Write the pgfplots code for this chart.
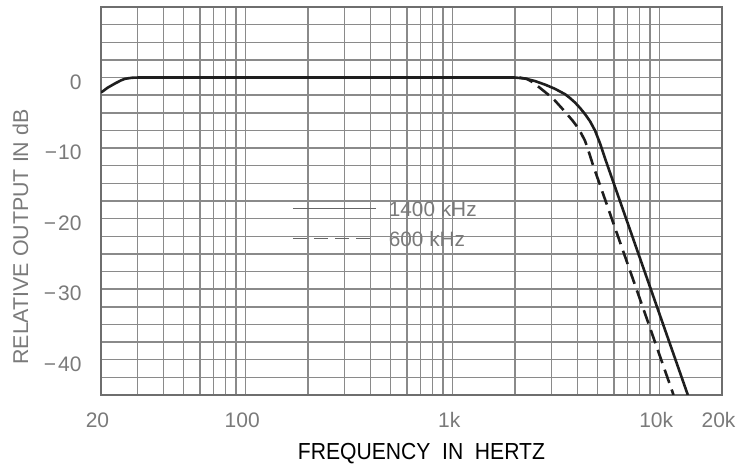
\documentclass[border=0pt]{standalone}
\usepackage{fontspec}
\setmainfont{Liberation Sans}
\usepackage{graphicx}
\usepackage{pgfplots}
\pgfplotsset{compat=1.18}
\definecolor{gridc}{HTML}{8A8A8A}
\definecolor{framec}{HTML}{6E6E6E}
\definecolor{labc}{HTML}{7A7A7A}
\definecolor{curvec}{HTML}{1E1E1E}
\begin{document}
\begin{tikzpicture}
\begin{axis}[
  scale only axis, width=310.5pt, height=194pt,
  xmode=log, xmin=20, xmax=20000, ymin=-45, ymax=10,
  xtick={20,100,1000,10000,20000}, xticklabels={20,100,1k,10k,20k},
  minor xtick={30,40,50,60,70,80,90,200,300,400,500,600,700,800,900,2000,3000,4000,5000,6000,7000,8000,9000},
  ytick={-40,-30,-20,-10,0},
  yticklabels={−\kern1pt40,−\kern1pt30,−\kern1pt20,−\kern0.5pt10,0},
  minor ytick={-45,-42.5,-37.5,-35,-32.5,-27.5,-25,-22.5,-17.5,-15,-12.5,-7.5,-5,-2.5,2.5,5,7.5,10},
  grid=both,
  major grid style={draw=gridc, line width=0.75pt},
  minor grid style={draw=gridc, line width=0.75pt},
  major tick length=0pt, minor tick length=0pt,
  axis line style={draw=framec, line width=1.1pt},
  /pgf/number format/assume math mode=true,
  ticklabel style={font=\fontsize{10.5}{12}\selectfont, text=labc, inner sep=0pt},
  xticklabel style={anchor=base, yshift=-16.5pt, xshift=-1.75pt},
  yticklabel style={anchor=east, xshift=-9.5pt, yshift=-2.25pt},
  xlabel={\scalebox{0.91}[1]{\fontsize{11.6}{14}\selectfont FREQUENCY\ \ IN\ \ HERTZ}},
  xlabel style={at={(axis description cs:0.516,-0.1675)}, anchor=base, inner sep=0pt, text=black},
  ylabel={\fontsize{10.7}{13}\selectfont RELATIVE OUTPUT IN dB},
  ylabel style={at={(axis description cs:-0.1296,0.407)}, anchor=center, inner sep=0pt, text=labc},
  legend style={draw=none, fill=none, at={(axis description cs:0.3076,0.442)}, anchor=west,
    inner sep=0pt, outer sep=0pt, row sep=7.5pt, column sep=6pt,
    font=\fontsize{10.4}{12}\selectfont, text=labc,
    nodes={inner sep=0pt, text height=7.5pt, text depth=0pt}, cells={anchor=west}},
  legend image code/.code={\draw[#1] (0pt,0pt) -- (41.5pt,0pt);},
  legend image post style={line width=0.9pt, draw=black!60},
]
\addplot[curvec, line width=1.3pt] coordinates {
  (20,-2.1) (20.4,-1.95) (21.5,-1.45) (23.4,-0.83) (25,-0.4) (26.1,-0.18) (28.2,-0.03) (30,0)
  (2000,0) (2236,-0.14) (2498,-0.5) (2792,-1.0) (3121,-1.6) (3489,-2.36) (3688,-2.91)
  (3900,-3.55) (4121,-4.31) (4359,-5.19) (4606,-6.19) (4870,-7.51) (5148,-9.32)
  (5444,-11.46) (13676,-45)
};
\addlegendentry{1400 kHz}
\addplot[curvec, line width=1.3pt, dash pattern=on 7pt off 3.5pt] coordinates {
  (2100,0) (2286,-0.2) (2444,-0.69) (2732,-1.82) (3053,-2.97) (3412,-4.53) (3606,-5.35)
  (3814,-6.18) (3988,-6.94) (4168,-7.87) (4359,-8.97) (4556,-10.63) (4764,-12.42)
  (11664,-45)
};
\addlegendentry{600 kHz}
\end{axis}
\pgfresetboundingbox
\path (-50.5pt,-35.5pt) rectangle (320pt,197.5pt);
\end{tikzpicture}
\end{document}
